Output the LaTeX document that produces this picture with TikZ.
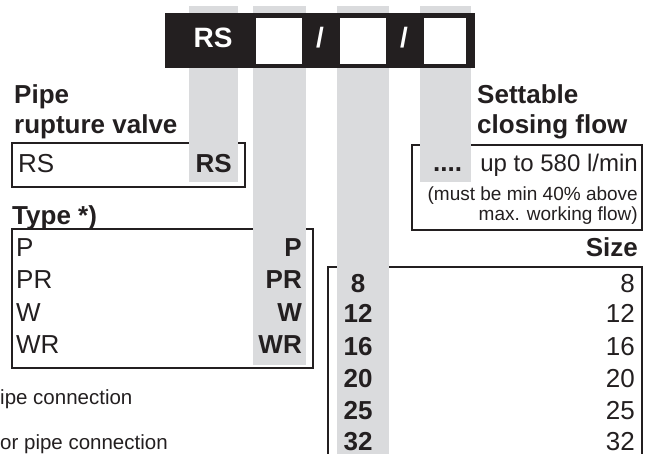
\documentclass[tikz,border=0pt]{standalone}
\usepackage{fontspec}
\setmainfont{Liberation Sans}
\definecolor{stripgray}{RGB}{218,219,221}
\definecolor{barblack}{RGB}{35,31,32}
\definecolor{inkblack}{RGB}{35,31,32}
\begin{document}
\begin{tikzpicture}[x=1pt,y=-1pt,
  head/.style={font=\fontsize{26}{30}\selectfont\bfseries, inner sep=0, text=inkblack},
  reg/.style={font=\fontsize{26}{30}\selectfont, inner sep=0, text=inkblack},
  regb/.style={font=\fontsize{26}{30}\selectfont\bfseries, inner sep=0, text=inkblack},
  mid/.style={font=\fontsize{24}{28}\selectfont, inner sep=0, text=inkblack},
  small/.style={font=\fontsize{19}{22}\selectfont, inner sep=0, text=inkblack},
  note/.style={font=\fontsize{20.5}{24}\selectfont, inner sep=0, text=inkblack},
  bartext/.style={font=\fontsize{28}{32}\selectfont\bfseries, inner sep=0, text=white},
  frame/.style={draw=inkblack, line width=1.8pt},
  strip/.style={fill=stripgray, draw=none},
]
\useasboundingbox (0,0) rectangle (645,454);
\clip (0,0) rectangle (645,454);
% boxes
\draw[frame] (12,143) rectangle (245,187);
\draw[frame] (12,229) rectangle (313,368);
\draw[frame] (328,500) -- (328,267) -- (642,267) -- (642,500);
\draw[frame] (412,145) rectangle (642,230);
% gray strips
\fill[strip] (189,6) rectangle (238,182);
\fill[strip] (253,6) rectangle (306,365);
\fill[strip] (337,6) rectangle (389,454);
\fill[strip] (420,6) rectangle (471,182);
% black bar
\fill[barblack] (165,13) rectangle (475,68);
\fill[white] (256,18) rectangle (302,64);
\fill[white] (340,18) rectangle (386,64);
\fill[white] (424,18) rectangle (466,64);
\node[bartext, anchor=base] (barrs) at (213,48) {RS};
\node[bartext, anchor=base] (slash1) at (320,48) {/};
\node[bartext, anchor=base] (slash2) at (404,48) {/};
% pipe rupture valve
\node[head, anchor=base west] (pipe1) at (14,104) {Pipe};
\node[head, anchor=base west] (pipe2) at (14,134) {rupture valve};
\node[reg, anchor=base west] (rsl) at (18,173) {RS};
\node[regb, anchor=base east] (rsr) at (232,173) {RS};
% type
\node[head, anchor=base west] (type) at (12,225) {Type *)};
\node[reg, anchor=base west] (tp) at (16,257) {P};
\node[reg, anchor=base west] (tpr) at (16,289) {PR};
\node[reg, anchor=base west] (tw) at (16,321) {W};
\node[reg, anchor=base west] (twr) at (16,353) {WR};
\node[regb, anchor=base east] (bp) at (302,257) {P};
\node[regb, anchor=base east] (bpr) at (302,289) {PR};
\node[regb, anchor=base east] (bw) at (302,321) {W};
\node[regb, anchor=base east] (bwr) at (302,353) {WR};
% closing flow
\node[head, anchor=base west] (set1) at (477,104) {Settable};
\node[head, anchor=base west] (set2) at (477,134) {closing flow};
\node[regb, anchor=base west] (dots) at (433,172) {....};
\node[mid, anchor=base east] (upto) at (638,172) {up to 580 l/min};
\node[small, anchor=base east] (must) at (638,201) {(must be min 40\% above};
\node[small, anchor=base east] (maxw) at (638,221) {max. working flow)};
% size
\node[head, anchor=base east] (size) at (638,257) {Size};
\foreach \v/\yy in {8/292,12/323,16/355,20/387,25/419,32/450}{
  \node[regb, anchor=base] (sl\v) at (358,\yy) {\v};
  \node[reg, anchor=base east] (sr\v) at (635,\yy) {\v};
}
% left notes
\node[note, anchor=base west] (note1) at (0,404) {ipe connection};
\node[note, anchor=base west] (note2) at (0,449) {or pipe connection};
\end{tikzpicture}
\end{document}
